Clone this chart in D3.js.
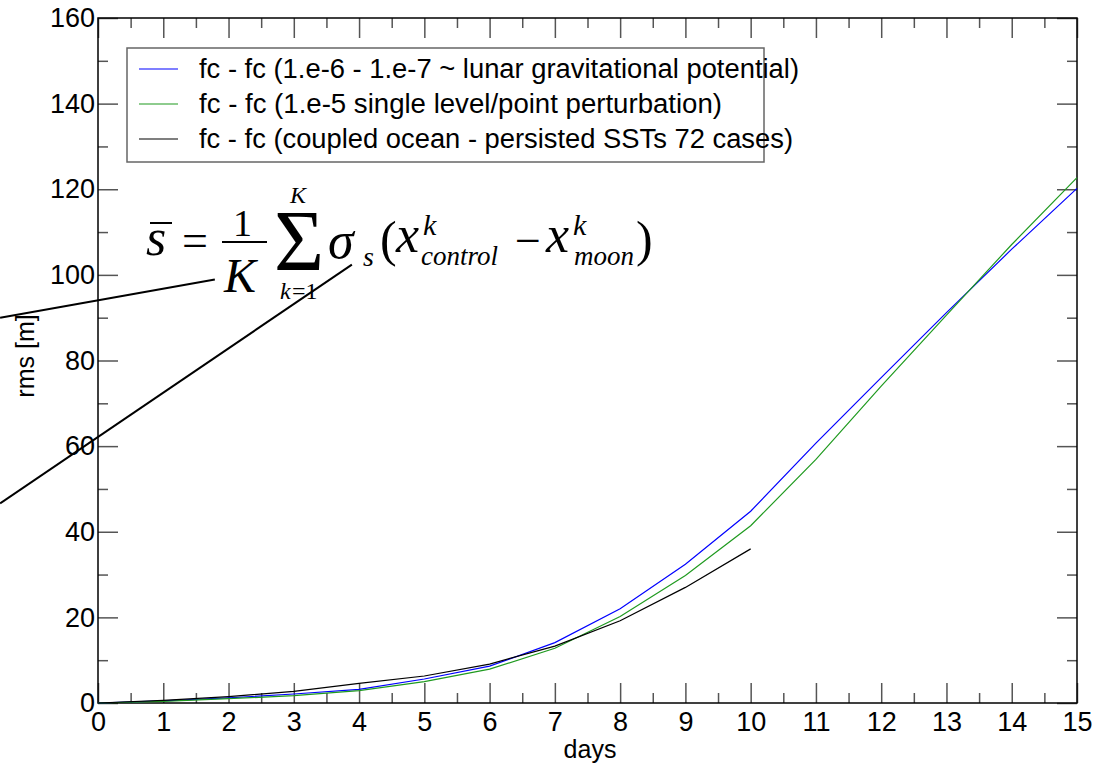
<!DOCTYPE html>
<html lang="en">
<head>
<meta charset="UTF-8">
<title>rms vs days</title>
<script src="https://cdn.jsdelivr.net/npm/d3@7"></script>
<style>
  body { margin: 0; background: #fff; }
  svg { display: block; }
  text { font-family: "Liberation Sans", Arial, sans-serif; }
  .serif { font-family: "Liberation Serif", "Times New Roman", serif; }
</style>
</head>
<body>
<div id="chart"></div>
<script>
// data
const days = [0, 1, 2, 3, 4, 5, 6, 7, 8, 9, 10, 11, 12, 13, 14, 15];
const lunarVals = [0, 0.5, 1.2, 2.1, 3.2, 5.6, 8.6, 14.1, 22.0, 32.4, 44.8, 60.7, 76.0, 91.2, 106.0, 120.2];
const singleVals = [0, 0.4, 1.0, 1.7, 2.9, 5.0, 7.9, 12.8, 20.2, 29.8, 41.4, 56.9, 74.0, 90.6, 107.1, 122.7];
const coupledVals = [0, 0.6, 1.5, 2.7, 4.6, 6.3, 9.1, 13.3, 19.2, 27.0, 36.0];

const seriesNames = [
  "fc - fc (1.e-6 - 1.e-7 ~ lunar gravitational potential)",
  "fc - fc (1.e-5 single level/point perturbation)",
  "fc - fc (coupled ocean - persisted SSTs 72 cases)"
];
const seriesColors = ["#0000ff", "#1f9a1f", "#000000"];

const xTicks = [0, 1, 2, 3, 4, 5, 6, 7, 8, 9, 10, 11, 12, 13, 14, 15];
const xMinorTicks = [0.5, 1.5, 2.5, 3.5, 4.5, 5.5, 6.5, 7.5, 8.5, 9.5, 10.5, 11.5, 12.5, 13.5, 14.5];
const yTicks = [0, 20, 40, 60, 80, 100, 120, 140, 160];
const yMinorTicks = [10, 30, 50, 70, 90, 110, 130, 150];

// two hand-drawn pointer lines, in data units [day, rms]
const pointerA = [[-1.50, 90.0], [1.79, 98.9]];
const pointerB = [[-1.50, 46.6], [3.89, 102.4]];

const width = 1105, height = 765;
const plotLeft = 98, plotRight = 1077, plotTop = 18, plotBottom = 703;

const svg = d3.select("#chart").append("svg")
  .attr("width", width).attr("height", height);

const x = d3.scaleLinear().domain([0, 15]).range([plotLeft, plotRight]);
const y = d3.scaleLinear().domain([0, 160]).range([plotBottom, plotTop]);

function styleAxis(g) {
  g.select(".domain").remove();
  g.selectAll(".tick line").attr("stroke", "#555").attr("stroke-width", 1.5);
  g.selectAll("text").attr("fill", "#000").attr("font-size", 27)
    .attr("font-family", "'Liberation Sans', Arial, sans-serif");
}

// bottom axis (labels)
svg.append("g").attr("transform", `translate(0,${plotBottom})`)
  .call(d3.axisBottom(x).tickValues(xTicks).tickFormat(d3.format("d"))
    .tickSizeInner(-20).tickSizeOuter(0).tickPadding(9))
  .call(styleAxis);
svg.append("g").attr("transform", `translate(0,${plotBottom})`)
  .call(d3.axisBottom(x).tickValues(xMinorTicks).tickFormat("")
    .tickSizeInner(-10).tickSizeOuter(0))
  .call(styleAxis);
// top axis
svg.append("g").attr("transform", `translate(0,${plotTop})`)
  .call(d3.axisTop(x).tickValues(xTicks).tickFormat("").tickSizeInner(-20).tickSizeOuter(0))
  .call(styleAxis);
svg.append("g").attr("transform", `translate(0,${plotTop})`)
  .call(d3.axisTop(x).tickValues(xMinorTicks).tickFormat("").tickSizeInner(-10).tickSizeOuter(0))
  .call(styleAxis);
// left axis
svg.append("g").attr("transform", `translate(${plotLeft},0)`)
  .call(d3.axisLeft(y).tickValues(yTicks).tickFormat(d3.format("d"))
    .tickSizeInner(-20).tickSizeOuter(0).tickPadding(3))
  .call(styleAxis);
svg.append("g").attr("transform", `translate(${plotLeft},0)`)
  .call(d3.axisLeft(y).tickValues(yMinorTicks).tickFormat("").tickSizeInner(-10).tickSizeOuter(0))
  .call(styleAxis);
// right axis
svg.append("g").attr("transform", `translate(${plotRight},0)`)
  .call(d3.axisRight(y).tickValues(yTicks).tickFormat("").tickSizeInner(-20).tickSizeOuter(0))
  .call(styleAxis);
svg.append("g").attr("transform", `translate(${plotRight},0)`)
  .call(d3.axisRight(y).tickValues(yMinorTicks).tickFormat("").tickSizeInner(-10).tickSizeOuter(0))
  .call(styleAxis);

// frame
svg.append("rect")
  .attr("x", plotLeft).attr("y", plotTop)
  .attr("width", plotRight - plotLeft).attr("height", plotBottom - plotTop)
  .attr("fill", "none").attr("stroke", "#000").attr("stroke-width", 1.5);

// axis titles
svg.append("text").attr("x", 590).attr("y", 758)
  .attr("text-anchor", "middle").attr("font-size", 25).text("days");
svg.append("text")
  .attr("transform", "translate(34,356) rotate(-90)")
  .attr("text-anchor", "middle").attr("font-size", 25).text("rms [m]");

// series lines
const line = d3.line().x((d, i) => x(days[i])).y(d => y(d));
[lunarVals, singleVals, coupledVals].forEach((vals, i) => {
  svg.append("path").datum(vals)
    .attr("fill", "none")
    .attr("stroke", seriesColors[i])
    .attr("stroke-width", 1.2)
    .attr("d", line);
});

// legend
svg.append("rect")
  .attr("x", 127).attr("y", 48).attr("width", 637).attr("height", 114)
  .attr("fill", "none").attr("stroke", "#666").attr("stroke-width", 1.5);
const legendLengths = [600, 523, 594];
seriesNames.forEach((name, i) => {
  const ly = 69 + i * 35;
  svg.append("line")
    .attr("x1", 139).attr("x2", 178).attr("y1", ly).attr("y2", ly)
    .attr("stroke", seriesColors[i]).attr("stroke-width", 1.2);
  svg.append("text")
    .attr("x", 199).attr("y", ly + 9)
    .attr("font-size", 27)
    .attr("textLength", legendLengths[i])
    .attr("lengthAdjust", "spacingAndGlyphs")
    .text(name);
});

// formula
const f = svg.append("g").attr("class", "serif").attr("fill", "#000");
function ft(tx, ty, size, str, italic) {
  f.append("text").attr("class", "serif")
    .attr("x", tx).attr("y", ty).attr("font-size", size)
    .attr("font-style", italic ? "italic" : "normal")
    .text(str);
}
ft(146, 255, 52, "s", true);
f.append("line").attr("x1", 150).attr("x2", 172).attr("y1", 223).attr("y2", 223)
  .attr("stroke", "#000").attr("stroke-width", 2);
ft(182, 256, 46, "=", false);
ft(233, 236, 38, "1", false);
f.append("line").attr("x1", 222).attr("x2", 267).attr("y1", 242).attr("y2", 242)
  .attr("stroke", "#000").attr("stroke-width", 2);
ft(224, 292, 48, "K", true);
ft(274, 270, 86, "\u03a3", false);
ft(290, 203, 24, "K", true);
ft(280, 299, 24, "k", true);
ft(292, 299, 24, "=1", false);
ft(328, 258, 52, "\u03c3", true);
ft(363, 266, 28, "s", true);
ft(380, 256, 50, "(", false);
ft(396, 252, 52, "x", true);
ft(423, 235, 30, "k", true);
ft(421, 265, 27, "control", true);
ft(515, 256, 46, "\u2212", false);
ft(546, 252, 52, "x", true);
ft(573, 235, 30, "k", true);
ft(574, 265, 27, "moon", true);
ft(636, 256, 50, ")", false);

// pointer lines
[pointerA, pointerB].forEach(p => {
  svg.append("line")
    .attr("x1", x(p[0][0])).attr("y1", y(p[0][1]))
    .attr("x2", x(p[1][0])).attr("y2", y(p[1][1]))
    .attr("stroke", "#000").attr("stroke-width", 2);
});
</script>
</body>
</html>
